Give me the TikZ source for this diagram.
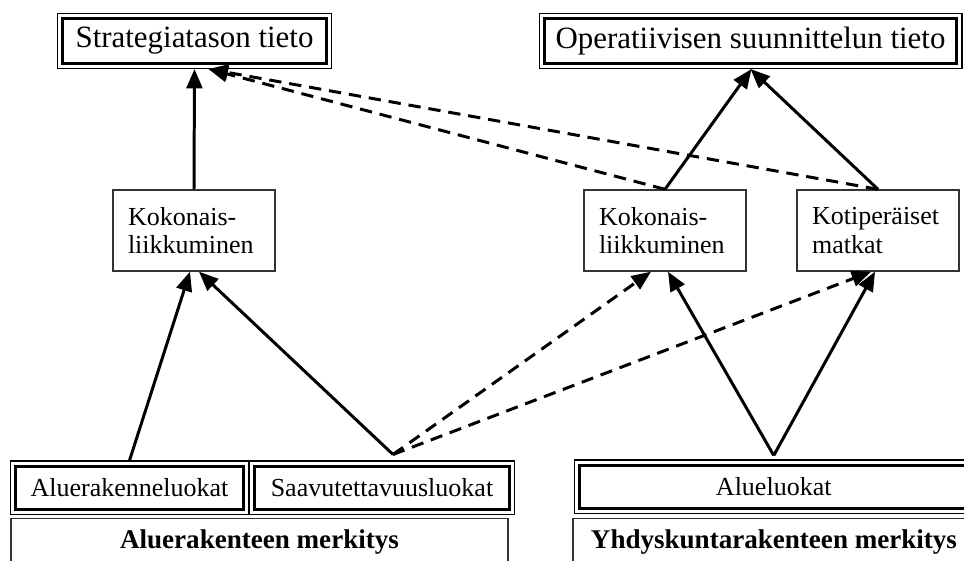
\documentclass[tikz,border=0pt]{standalone}
\usepackage{fontspec}
\setmainfont{Liberation Serif}
\usetikzlibrary{arrows.meta,
                calc, %for the shifted arrow ends
                fit, %for the outer thin frames
                positioning}

\begin{document}
\begin{tikzpicture}[x=0.02cm, y=-0.02cm,
                    Tieto/.style={draw, line width=1.7pt, minimum width=#1, minimum height=0.9cm, font=\fontsize{17.6}{21}\selectfont},
                    Luokka/.style={draw, line width=1.7pt, minimum width=#1, minimum height=0.87cm, font=\fontsize{14.8}{18}\selectfont},
                    Laatikko/.style={draw=black!80, line width=0.8pt, minimum width=3.24cm, minimum height=1.62cm, text width=2.64cm, inner xsep=0.3cm, align=left, font=\fontsize{14.8}{16}\selectfont},
                    Merkitys/.style={draw=black!80, line width=0.8pt, anchor=north, minimum width=#1, text height=0.5cm, text depth=1cm, inner ysep=0.1cm, font=\fontsize{15.4}{18}\selectfont\bfseries},
                    kehys/.style={draw, line width=0.6pt, inner sep=2pt},
                    nuoli/.style={-{Triangle[length=11pt,width=9pt]}, line width=1.7pt},
                    katkonuoli/.style={nuoli, dash pattern=on 7pt off 4.5pt}
                    ]

    \useasboundingbox (0,0) rectangle (964,561);
    \clip (0,0) rectangle (964,561);

    % TIETO %
    \node[Tieto=5.28cm] at (194.5,41) (st) {Strategiatason tieto};
    \node[Tieto=8.26cm] at (750.5,41) (op) {Operatiivisen suunnittelun tieto};

    % LIIKKUMINEN %
    \node[Laatikko] at (194,230.5) (kl) {Kokonais-\\liikkuminen};
    \node[Laatikko] at (665,230.5) (km) {Kokonais-\\liikkuminen};
    \node[Laatikko] at (878,230.5) (kp) {Kotiperäiset\\matkat};

    % LUOKAT %
    \node[Luokka=4.56cm] at (129.5,487.75) (alr) {Aluerakenneluokat};
    \node[Luokka=5.1cm]  at (382,487.75)   (saa) {Saavutettavuusluokat};
    \node[Luokka=7.77cm] at (773.75,486.75) (alu) {Alueluokat};

    \foreach \n in {st,op,alr,saa,alu}
    \node[kehys, fit=(\n)] (k\n) {};

    % MERKITYS %
    \node[Merkitys=9.94cm] at (259.5,518) (am) {Aluerakenteen merkitys};
    \node[Merkitys=8.04cm] at (774,518)   (ym) {Yhdyskuntarakenteen merkitys};

    \coordinate (sv) at ($(ksaa.north)+(11,-6)$);
    \coordinate (av) at ($(kalu.north)+(0,-4)$);

    % NUOLET %
    \draw[nuoli] (kl.north) -- (kst.south);
    \draw[katkonuoli] (km.north) -- ($(kst.south)+(14,0)$);
    \draw[katkonuoli] (kp.north) -- ($(kst.south)+(14,0)$);
    \draw[nuoli] (km.north) -- ($(kop.south)+(1,0)$);
    \draw[nuoli] (kp.north) -- (kop.south);

    \draw[nuoli] (kalr.north) -- ($(kl.south)+(-4,0)$);
    \draw[nuoli] (sv) -- ($(kl.south)+(5,0)$);
    \draw[katkonuoli] (sv) -- ($(km.south)+(-14,0)$);
    \draw[katkonuoli] (sv) -- ($(kp.south)+(-7,0)$);
    \draw[nuoli] (av) -- ($(km.south)+(3,0)$);
    \draw[nuoli] (av) -- ($(kp.south)+(-3,0)$);
\end{tikzpicture}
\end{document}
